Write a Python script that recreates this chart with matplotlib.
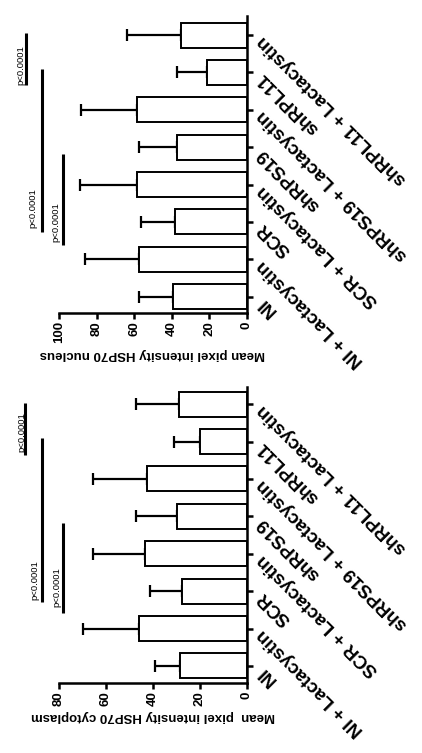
import matplotlib
matplotlib.use('Agg')
import matplotlib.pyplot as plt
import numpy as np

plt.rcParams['font.family'] = ['Liberation Sans', 'DejaVu Sans']

categories = ['NI', 'NI + Lactacystin', 'SCR', 'SCR + Lactacystin',
              'shRPS19', 'shRPS19 + Lactacystin', 'shRPL11', 'shRPL11 + Lactacystin']

# nucleus (upper panel)
nuc_mean = [39.5, 57.4, 38.4, 58.7, 37.3, 58.3, 21.0, 35.0]
nuc_err = [17.9, 28.8, 18.1, 30.2, 20.1, 30.1, 16.3, 28.7]
nuc_ticks = [0, 20, 40, 60, 80, 100]

# cytoplasm (lower panel)
cyt_mean = [28.4, 46.1, 27.7, 43.3, 29.5, 42.3, 19.9, 28.7]
cyt_err = [10.6, 23.7, 13.4, 22.4, 17.7, 23.0, 11.0, 18.5]
cyt_ticks = [0, 20, 40, 60, 80]

# significance lines: (from category, to category, value), text at (value, category)
nuc_sig_lines = [(2.38, 4.82, 97.8), (2.74, 7.08, 109.0), (6.66, 8.05, 117.7)]
nuc_sig_text = [(101.4, 3.0), (113.7, 3.37), (120.4, 7.2)]
cyt_sig_lines = [(2.42, 4.82, 78.2), (2.71, 7.1, 87.1), (6.64, 8.03, 94.3)]
cyt_sig_text = [(80.9, 3.1), (90.1, 3.3), (95.8, 7.26)]
sig_label = 'p<0.0001'

fig = plt.figure(figsize=(4.22, 7.53), dpi=100)
ax_nuc = fig.add_axes([0.1398, 0.5843, 0.4448, 0.3944])
ax_cyt = fig.add_axes([0.1398, 0.0930, 0.4448, 0.3931])


def draw_panel(ax, means, errs, ticks, ylow, yhigh, label, sig_lines, sig_text):
    pos = np.arange(1, len(categories) + 1)
    ax.barh(pos, means, height=0.67, color='white', edgecolor='black',
            linewidth=1.4, zorder=3)
    ax.errorbar(means, pos, xerr=[np.zeros(len(errs)), errs], fmt='none',
                ecolor='black', elinewidth=1.6, capsize=4.5, capthick=1.6, zorder=2)
    ax.set_xlim(ticks[-1], 0)
    ax.set_ylim(ylow, yhigh)
    ax.spines['top'].set_visible(False)
    ax.spines['left'].set_visible(False)
    ax.spines['right'].set_linewidth(1.8)
    ax.spines['bottom'].set_linewidth(1.8)
    ax.set_xticks(ticks)
    ax.set_xticklabels([str(t) for t in ticks], rotation=90, fontsize=9.5,
                       fontweight='bold')
    ax.tick_params(axis='x', length=4.5, width=1.8, pad=1.5)
    ax.yaxis.tick_right()
    ax.set_yticks(pos)
    ax.set_yticklabels(categories, rotation=135, ha='right', va='baseline',
                       rotation_mode='anchor', fontsize=13.5, fontweight='bold')
    ax.tick_params(axis='y', length=4, width=1.8, pad=8)
    ax.set_xlabel(label, rotation=180, fontsize=9.5, fontweight='bold', labelpad=3)
    for (y0, y1, v) in sig_lines:
        ax.plot([v, v], [y0, y1], color='black', linewidth=2.2, clip_on=False,
                solid_capstyle='butt')
    for (v, y) in sig_text:
        ax.text(v, y, sig_label, rotation=90, ha='center', va='center',
                fontsize=6.8, clip_on=False)


draw_panel(ax_nuc, nuc_mean, nuc_err, nuc_ticks, 0.564, 8.51,
           'Mean pixel intensity HSP70 nucleus', nuc_sig_lines, nuc_sig_text)
draw_panel(ax_cyt, cyt_mean, cyt_err, cyt_ticks, 0.545, 8.46,
           'Mean  pixel intensity HSP70 cytoplasm', cyt_sig_lines, cyt_sig_text)

fig.savefig('out.png', dpi=100)
